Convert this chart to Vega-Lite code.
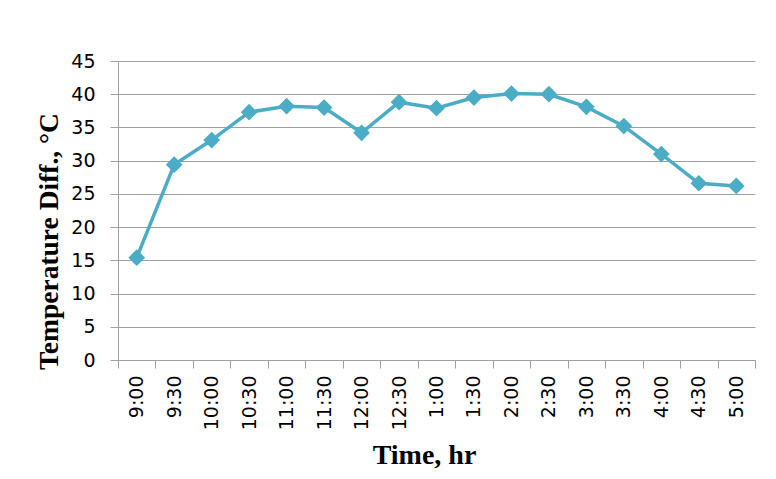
{
  "$schema": "https://vega.github.io/schema/vega-lite/v6.json",
  "width": 637,
  "height": 299,
  "autosize": {"type": "none"},
  "padding": {"left": 118, "top": 61, "right": 21, "bottom": 119},
  "background": "white",
  "config": {"view": {"stroke": null}},
  "data": {
    "values": [
      {"time": "9:00", "diff": 15.4},
      {"time": "9:30", "diff": 29.4},
      {"time": "10:00", "diff": 33.1},
      {"time": "10:30", "diff": 37.3},
      {"time": "11:00", "diff": 38.2},
      {"time": "11:30", "diff": 38.0},
      {"time": "12:00", "diff": 34.2},
      {"time": "12:30", "diff": 38.8},
      {"time": "1:00", "diff": 37.9},
      {"time": "1:30", "diff": 39.5},
      {"time": "2:00", "diff": 40.1},
      {"time": "2:30", "diff": 40.0},
      {"time": "3:00", "diff": 38.1},
      {"time": "3:30", "diff": 35.2},
      {"time": "4:00", "diff": 31.0},
      {"time": "4:30", "diff": 26.6},
      {"time": "5:00", "diff": 26.2}
    ]
  },
  "encoding": {
    "x": {
      "field": "time",
      "type": "ordinal",
      "sort": null,
      "scale": {"paddingInner": 0, "paddingOuter": 0},
      "axis": {
        "title": "Time, hr",
        "titleFont": "Liberation Serif",
        "titleFontSize": 28,
        "titleFontWeight": "bold",
        "titleColor": "black",
        "titleX": 306,
        "titleY": 103,
        "titleAlign": "center",
        "titleBaseline": "alphabetic",
        "labelAngle": -90,
        "labelAlign": "right",
        "labelBaseline": "middle",
        "labelFont": "DejaVu Sans",
        "labelFontSize": 19,
        "labelColor": "black",
        "labelPadding": 7,
        "tickBand": "extent",
        "tickSize": 8,
        "tickColor": "#a0a0a0",
        "domainColor": "#a0a0a0",
        "grid": false
      }
    },
    "y": {
      "field": "diff",
      "type": "quantitative",
      "scale": {"domain": [0, 45], "nice": false},
      "axis": {
        "title": "Temperature Diff., °C",
        "titleFont": "Liberation Serif",
        "titleFontSize": 27.5,
        "titleFontWeight": "bold",
        "titleColor": "black",
        "titleAngle": -90,
        "titleAlign": "center",
        "titleBaseline": "alphabetic",
        "titleX": -61,
        "titleY": 180,
        "values": [0, 5, 10, 15, 20, 25, 30, 35, 40, 45],
        "labelFont": "DejaVu Sans",
        "labelFontSize": 19,
        "labelColor": "black",
        "labelPadding": 15,
        "tickSize": 8,
        "tickColor": "#a0a0a0",
        "domainColor": "#a0a0a0",
        "grid": true,
        "gridColor": "#a0a0a0",
        "gridWidth": 1
      }
    }
  },
  "layer": [
    {"mark": {"type": "line", "color": "#4bacc6", "strokeWidth": 3.5}},
    {"mark": {"type": "point", "shape": "diamond", "filled": true, "size": 280, "color": "#4bacc6", "opacity": 1}}
  ]
}
